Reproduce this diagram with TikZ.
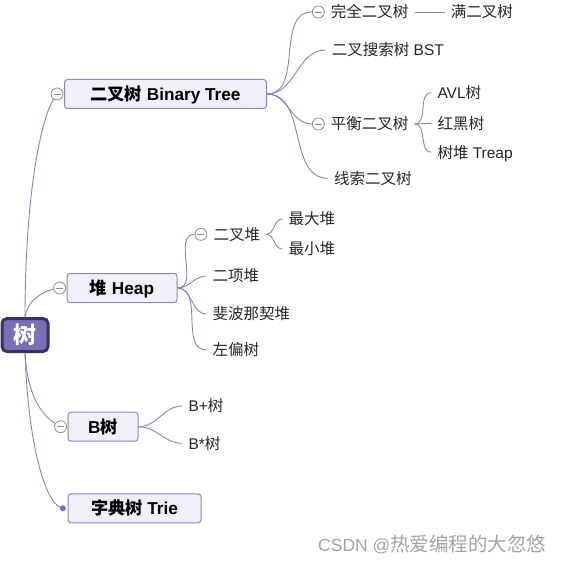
\documentclass[tikz,border=0pt]{standalone}
\usepackage{fontspec}
\setmainfont{Liberation Sans}
\newfontfamily\cjk{Noto Sans CJK SC}
\usepackage{tikz}
\usetikzlibrary{positioning}
\definecolor{rootfill}{HTML}{7B6DB7}
\definecolor{rootline}{HTML}{3A315F}
\definecolor{boxfill}{HTML}{F1EFFA}
\definecolor{boxline}{HTML}{8E86C3}
\definecolor{linkcol}{HTML}{8A81C1}
\definecolor{foldcol}{HTML}{8C8C8C}
\definecolor{markcol}{HTML}{A3A3A3}
\newcommand{\zh}[1]{{\cjk #1}}

\begin{document}
\begin{tikzpicture}[x=1pt,y=-1pt,
  link/.style={linkcol, line width=0.9pt},
  rootbox/.style={draw=rootline, fill=rootfill, line width=3pt, rounded corners=5pt,
    minimum width=46pt, minimum height=33pt, inner sep=0pt, text=white,
    font=\bfseries\fontsize{23}{26}\selectfont, text height=17.5pt, text depth=0pt},
  topic/.style={draw=boxline, fill=boxfill, line width=1pt, rounded corners=3pt,
    minimum height=29pt, inner sep=0pt, font=\bfseries\fontsize{17.2}{20}\selectfont,
    text height=13.1pt, text depth=0pt},
  leaf/.style={anchor=west, inner xsep=6pt, inner ysep=1pt, text=black!85,
    font=\fontsize{15.5}{18}\selectfont, text height=11.8pt, text depth=0pt},
  fold/.style={circle, draw=foldcol, fill=white, line width=0.8pt, minimum size=12pt,
    inner sep=0pt, path picture={\draw[foldcol, line width=0.8pt]
      ([xshift=-3.5pt]path picture bounding box.center) --
      ([xshift=3.5pt]path picture bounding box.center);}},
  tip/.style={circle, fill=rootfill, minimum size=6pt, inner sep=0pt}]
\useasboundingbox (0,0) rectangle (564,564);

%%% ROOT AND MAIN TOPICS
\node[rootbox] (root) at (25,335) {\zh{树}};
\node[topic, minimum width=202pt] (bt) at (165.5,94) {\zh{二叉树} Binary Tree};
\node[topic, minimum width=110pt] (heap) at (122,288) {\zh{堆} Heap};
\node[topic, minimum width=70pt] (btree) at (103,426.7) {B\zh{树}};
\node[topic, minimum width=133pt] (trie) at (134.5,508.3) {\zh{字典树} Trie};
\node[fold, left=0.5pt of bt.west] (fbt) {};
\node[fold, left=0.5pt of heap.west] (fheap) {};
\node[fold, left=0.5pt of btree.west] (fbtree) {};
\node[tip, left=1.5pt of trie.west] (ttrie) {};

%%% BINARY TREE
\node[leaf] (wq) at (324.7,12) {\zh{完全二叉树}};
\node[leaf] (man) at (444.7,12) {\zh{满二叉树}};
\node[leaf] (bst) at (325.7,50) {\zh{二叉搜索树} BST};
\node[leaf] (ph) at (324.7,124) {\zh{平衡二叉树}};
\node[leaf] (xs) at (328,178.3) {\zh{线索二叉树}};
\node[leaf] (avl) at (431.3,92.7) {AVL\zh{树}};
\node[leaf] (rb) at (431.3,123.3) {\zh{红黑树}};
\node[leaf] (treap) at (431.3,152.3) {\zh{树堆} Treap};
\node[fold, left=0pt of wq.west] (fwq) {};
\node[fold, left=0pt of ph.west] (fph) {};

%%% HEAP
\node[leaf] (bh) at (207.3,234.3) {\zh{二叉堆}};
\node[leaf] (maxh) at (282.3,219) {\zh{最大堆}};
\node[leaf] (minh) at (282.3,249) {\zh{最小堆}};
\node[leaf] (binom) at (206.3,276) {\zh{二项堆}};
\node[leaf] (fib) at (206.3,314) {\zh{斐波那契堆}};
\node[leaf] (lt) at (206.3,350) {\zh{左偏树}};
\node[fold, left=0pt of bh.west] (fbh) {};

%%% B TREE
\node[leaf] (bplus) at (182.3,406) {B+\zh{树}};
\node[leaf] (bstar) at (182.3,443.3) {B*\zh{树}};

%%% LINKS
\draw[link] (root.north) .. controls +(0,-117) and +(-17,26) .. (fbt);
\draw[link] (root.north) .. controls +(2,-15) and +(-19,4) .. (fheap);
\draw[link] (root.south) .. controls +(2,40) and +(-20,-12) .. (fbtree);
\draw[link] (root.south) .. controls +(3,90) and +(-18,-8) .. (ttrie);
\foreach \t in {fwq,bst,fph,xs}
  \draw[link] (bt.east) to[out=0,in=180] (\t.west);
\foreach \t in {avl,rb,treap}
  \draw[link] (ph.east) to[out=0,in=180] (\t.west);
\draw[link] (wq.east) -- (man.west);
\foreach \t in {fbh,binom,fib,lt}
  \draw[link] (heap.east) to[out=0,in=180] (\t.west);
\foreach \t in {maxh,minh}
  \draw[link] (bh.east) to[out=0,in=180] (\t.west);
\foreach \t in {bplus,bstar}
  \draw[link] (btree.east) to[out=0,in=180] (\t.west);

%%% WATERMARK
\node[anchor=west, inner sep=0pt, text=markcol, font=\fontsize{17.5}{20}\selectfont,
  text height=13.3pt, text depth=0pt] (mark) at (318,545)
  {CSDN @{\fontsize{19.5}{22}\selectfont\cjk 热爱编程的大忽悠}};
\end{tikzpicture}
\end{document}
